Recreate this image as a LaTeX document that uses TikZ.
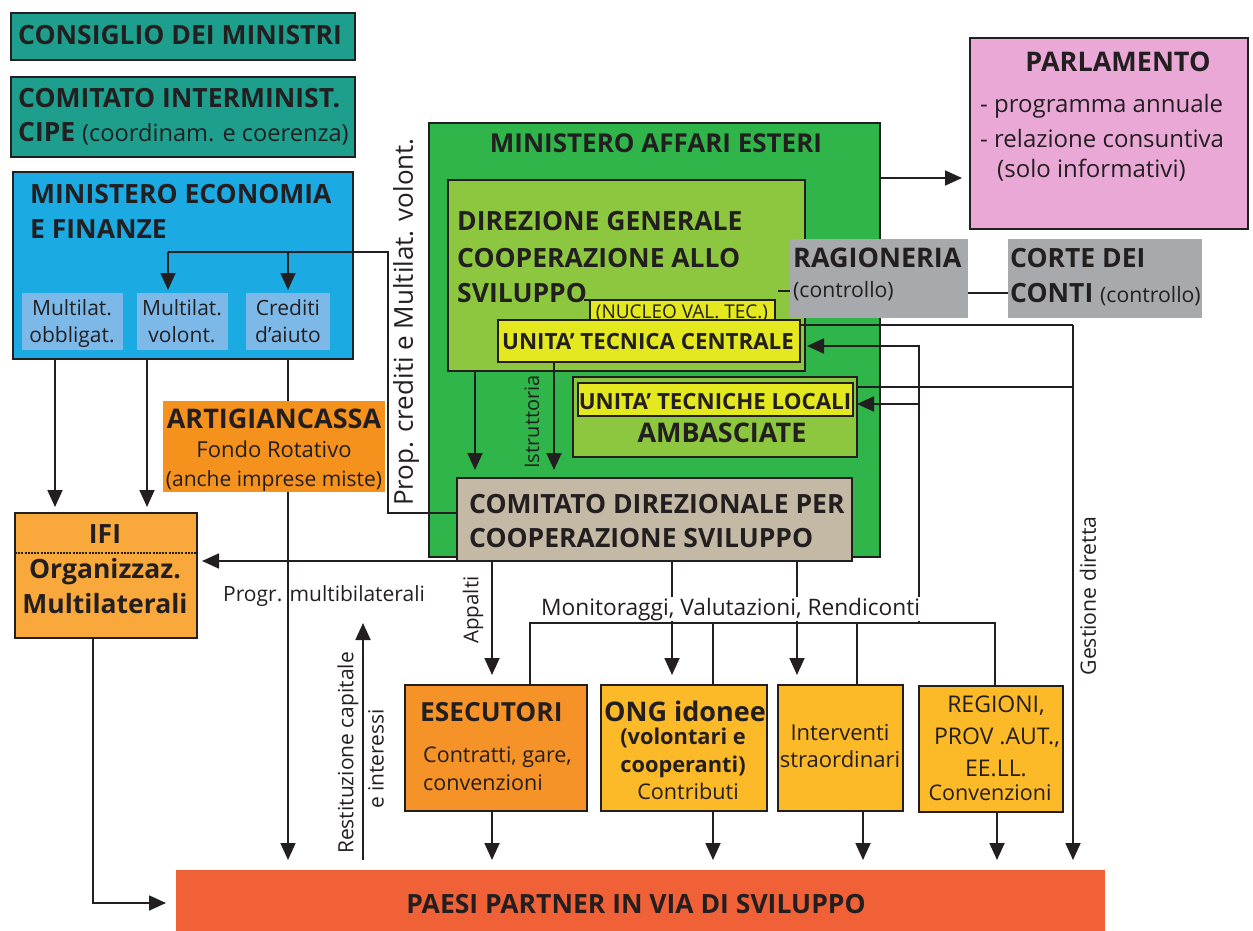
\documentclass[tikz,border=0pt]{standalone}
\usepackage{fontspec}
\setmainfont{Open Sans}
\usetikzlibrary{arrows.meta}
\definecolor{txt}{RGB}{35,31,32}
\definecolor{cTeal}{RGB}{30,158,140}
\definecolor{cBlue}{RGB}{28,170,227}
\definecolor{cSub}{RGB}{125,185,232}
\definecolor{cGreen}{RGB}{47,181,74}
\definecolor{cLight}{RGB}{141,198,63}
\definecolor{cYel}{RGB}{228,232,30}
\definecolor{cTan}{RGB}{196,185,164}
\definecolor{cGrey}{RGB}{167,169,172}
\definecolor{cPink}{RGB}{233,168,214}
\definecolor{cArt}{RGB}{245,146,30}
\definecolor{cIfi}{RGB}{249,169,60}
\definecolor{cEse}{RGB}{245,146,40}
\definecolor{cOng}{RGB}{252,185,40}
\definecolor{cRed}{RGB}{240,97,55}
\newcommand\rbox[7]{\node[#1,fill=#2,minimum width={#5-#3},minimum height={#6-#4}] (#7) at (#3,#4) {};}
\newcommand\tx[5]{\node[#1,anchor=#2] (#3) at (#4) {#5};}
\tikzset{
  bx/.style={draw=txt, line width=2.6pt, inner sep=0pt, outer sep=0pt, anchor=north west},
  fl/.style={inner sep=0pt, outer sep=0pt, anchor=north west},
  ln/.style={draw=txt, line width=1.8pt},
  ar/.style={ln, -{Triangle[width=15pt,length=17pt]}},
  R/.style={font=\fontsize{#1}{#1}\selectfont, text=txt, inner sep=0pt},
  B/.style={font=\fontsize{#1}{#1}\selectfont\bfseries, text=txt, inner sep=0pt},
}
\begin{document}
\begin{tikzpicture}[x=1pt,y=-1pt]
\useasboundingbox (0,0) rectangle (1253,931);
% boxes
\rbox{bx}{cTeal}{11}{13}{355}{60}{cons}
\rbox{bx}{cTeal}{11}{77}{355}{157}{cipe}
\rbox{bx}{cBlue}{13}{172}{353}{359}{mef}
\rbox{fl}{cSub}{22}{293}{123}{350}{sub1}
\rbox{fl}{cSub}{137}{293}{228}{350}{sub2}
\rbox{fl}{cSub}{246}{293}{330}{350}{sub3}
\rbox{fl}{cArt}{163}{401}{385}{492}{art}
\rbox{bx}{cIfi}{15}{513}{197}{638}{ifi}
\rbox{bx}{cGreen}{429}{123}{880}{557}{mae}
\rbox{bx}{cLight}{448}{180}{805}{371}{dir}
\rbox{bx}{cYel}{590}{300}{775}{321}{nuc}
\rbox{bx}{cYel}{498}{320}{800}{362}{utc}
\rbox{bx}{cLight}{573}{377}{857}{457}{amb}
\rbox{bx}{cYel}{578}{383}{853}{416}{utl}
\rbox{bx}{cTan}{457}{478}{852}{561}{com}
\rbox{fl}{cGrey}{790}{239}{968}{318}{rag}
\rbox{fl}{cGrey}{1008}{239}{1202}{318}{corte}
\rbox{bx}{cPink}{970}{38}{1248}{229}{par}
\rbox{bx}{cEse}{405}{685}{587}{811}{ese}
\rbox{bx}{cOng}{601}{685}{767}{811}{ong}
\rbox{bx}{cOng}{778}{685}{903}{811}{int}
\rbox{bx}{cOng}{919}{686}{1063}{812}{reg}
\rbox{fl}{cRed}{176}{870}{1105}{945}{pae}
% connectors
\draw[txt,line width=2pt] (nuc.north west) -- ++(-6,0);
\draw[ar,shorten >=8pt] (mae.east|-0,178) -- (par.west|-0,178);
\draw[ln] (rag.west|-0,291) -- ++(-12,0);
\draw[ln] (rag.east|-0,293) -- (corte.west|-0,293);
\draw[ln] (com.west|-0,513) -- (388,513) -- (388,252) -- (168,252);
\draw[ar,shorten >=3pt] (168,252) -- (168,0|-sub2.north);
\draw[ar,shorten >=3pt] (288,252) -- (288,0|-sub3.north);
\draw[ar,shorten >=6pt] (55,0|-mef.south) -- (55,0|-ifi.north);
\draw[ar,shorten >=6pt] (147,0|-mef.south) -- (147,0|-ifi.north);
\draw[ln] (288,0|-mef.south) -- (288,0|-art.north);
\draw[ar,shorten >=10pt] (288,0|-art.south) -- (288,0|-pae.north);
\draw[ar,shorten >=5pt] (com.south west) -- (ifi.east|-com.south west);
\draw[ar,shorten >=10pt] (93,0|-ifi.south) |- (pae.west|-0,903);
\draw[ar,shorten <=10pt] (363,0|-pae.north) -- (363,623);
\draw[ar,shorten >=8pt] (475,0|-dir.south) -- (475,0|-com.north);
\draw[ar,shorten >=8pt] (554,0|-utc.south) -- (554,0|-com.north);
\draw[ar,shorten >=10pt] (492,0|-com.south) -- (492,0|-ese.north);
\draw[ar,shorten >=10pt] (672,0|-com.south) -- (672,0|-ong.north);
\draw[ar,shorten >=10pt] (797,0|-com.south) -- (797,0|-int.north);
\draw[ln] (530,0|-ese.north) |- (995,623) -- (995,0|-reg.north);
\draw[ln] (713,623) -- (713,0|-ong.north);
\draw[ln] (857,623) -- (857,0|-int.north);
\draw[ar,shorten >=7pt] (919,623) -- (919,346) -- (utc.east|-0,346);
\draw[ar] (919,404) -- (amb.east|-0,404);
\draw[ln] (utc.east|-0,325) -- (1073,325);
\draw[ar,shorten >=10pt] (1073,325) -- (1073,0|-pae.north);
\draw[ln] (amb.east|-0,387) -- (1073,387);
\draw[ar,shorten >=10pt] (492,0|-ese.south) -- (492,0|-pae.north);
\draw[ar,shorten >=10pt] (713,0|-ong.south) -- (713,0|-pae.north);
\draw[ar,shorten >=10pt] (863,0|-int.south) -- (863,0|-pae.north);
\draw[ar,shorten >=10pt] (997,0|-reg.south) -- (997,0|-pae.north);
\draw[txt,line width=2.2pt,dash pattern=on 2pt off 1.2pt] (ifi.west|-0,553) -- (ifi.east|-0,553);
% texts
\tx{B=26.5}{base west}{t1}{18,45}{CONSIGLIO DEI MINISTRI}
\tx{B=26.5}{base west}{t2}{18,108}{COMITATO INTERMINIST.}
\tx{B=26.5}{base west}{t3}{18,142}{CIPE {\mdseries\fontsize{23.6}{23.6}\selectfont(coordinam. e coerenza)}}
\tx{B=26.5}{base west}{t4}{30,203}{MINISTERO ECONOMIA}
\tx{B=26.5}{base west}{t5}{30,238}{E FINANZE}
\tx{R=21}{base}{t6}{72,315}{Multilat.}
\tx{R=21}{base}{t7}{72,342}{obbligat.}
\tx{R=21}{base}{t8}{182,315}{Multilat.}
\tx{R=21}{base}{t9}{182,342}{volont.}
\tx{R=21}{base}{t10}{288,315}{Crediti}
\tx{R=21}{base}{t11}{288,342}{d’aiuto}
\tx{B=27}{base}{t12}{274,428}{ARTIGIANCASSA}
\tx{R=22}{base}{t13}{274,457}{Fondo Rotativo}
\tx{R=21}{base}{t14}{274,486}{(anche imprese miste)}
\tx{B=26.5}{base}{t15}{105,543}{IFI}
\tx{B=26.5}{base}{t16}{105,578}{Organizzaz.}
\tx{B=26.5}{base}{t17}{105,613}{Multilaterali}
\tx{R=21}{base west}{t18}{223,601}{Progr. multibilaterali}
\tx{B=26}{base}{t19}{656,153}{MINISTERO AFFARI ESTERI}
\tx{B=26.5}{base west}{t20}{457,230}{DIREZIONE GENERALE}
\tx{B=26.5}{base west}{t21}{457,267}{COOPERAZIONE ALLO}
\tx{B=26.5}{base west}{t22}{457,302}{SVILUPPO}
\tx{R=19}{base}{t23}{682,318}{(NUCLEO VAL. TEC.)}
\tx{B=22.3}{base}{t24}{648,349}{UNITA’ TECNICA CENTRALE}
\tx{B=22.3}{base}{t25}{715,409}{UNITA’ TECNICHE LOCALI}
\tx{B=27}{base}{t26}{722,442}{AMBASCIATE}
\tx{B=26.5}{base west}{t27}{469,513}{COMITATO DIREZIONALE PER}
\tx{B=26.5}{base west}{t28}{469,547}{COOPERAZIONE SVILUPPO}
\tx{B=27}{base west}{t29}{793,267}{RAGIONERIA}
\tx{R=21.2}{base west}{t30}{793,297}{(controllo)}
\tx{B=26.5}{base west}{t31}{1010,267}{CORTE DEI}
\tx{B=26.5}{base west}{t32}{1010,302}{CONTI {\mdseries\fontsize{21.2}{21.2}\selectfont(controllo)}}
\tx{B=27}{base}{t33}{1118,72}{PARLAMENTO}
\tx{R=24}{base west}{t34}{980,113}{- programma annuale}
\tx{R=24}{base west}{t35}{980,147}{- relazione consuntiva}
\tx{R=24}{base west}{t36}{997,177}{(solo informativi)}
\tx{B=26.3}{base west}{t37}{420,721}{ESECUTORI}
\tx{R=21.5}{base west}{t38}{423,762}{Contratti, gare,}
\tx{R=21.5}{base west}{t39}{423,790}{convenzioni}
\tx{B=27}{base}{t40}{685,721}{ONG idonee}
\tx{B=21.8}{base}{t41}{683,744}{(volontari e}
\tx{B=21.8}{base}{t42}{683,772}{cooperanti)}
\tx{R=21.6}{base}{t43}{688,799}{Contributi}
\tx{R=22}{base}{t44}{840,740}{Interventi}
\tx{R=22}{base}{t45}{840,767}{straordinari}
\tx{R=23}{base}{t46}{996,712}{REGIONI,}
\tx{R=23}{base}{t47}{997,744}{PROV .AUT.,}
\tx{R=23}{base}{t48}{996,776}{EE.LL.}
\tx{R=21.5}{base}{t49}{990,800}{Convenzioni}
\tx{B=26.5}{base}{t50}{636,913}{PAESI PARTNER IN VIA DI SVILUPPO}
\node[R=22.7,anchor=base west,fill=white,inner sep=1pt] (t51) at (540,615) {Monitoraggi, Valutazioni, Rendiconti};
\tx{R=26,rotate=90}{center}{t52}{406,322}{Prop. crediti e Multilat. volont.}
\tx{R=20,rotate=90}{center}{t53}{532,422}{Istruttoria}
\tx{R=20.5,rotate=90}{center}{t54}{473,610}{Appalti}
\tx{R=21,rotate=90}{center}{t55}{348,753}{Restituzione capitale}
\tx{R=21,rotate=90}{center}{t56}{376,759}{e interessi}
\tx{R=21.2,rotate=90}{center}{t57}{1088,596}{Gestione diretta}
\end{tikzpicture}
\end{document}
